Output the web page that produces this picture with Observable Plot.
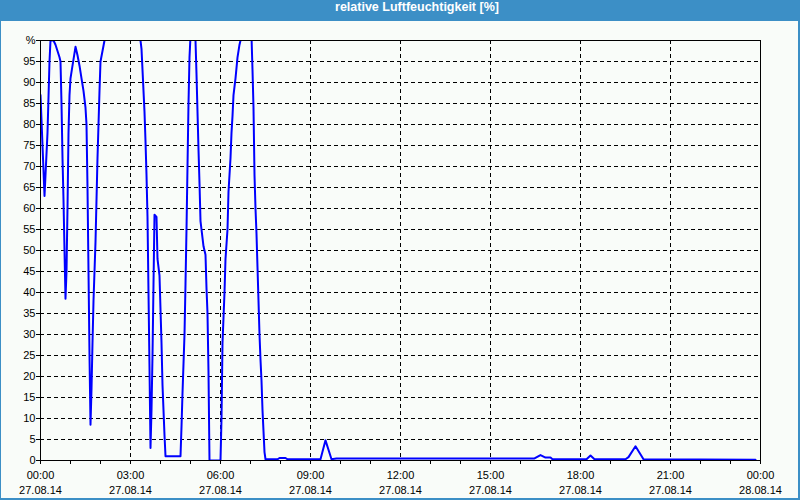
<!DOCTYPE html>
<html>
<head>
<meta charset="utf-8">
<script src="https://cdn.jsdelivr.net/npm/d3@7"></script>
<script src="https://cdn.jsdelivr.net/npm/@observablehq/plot@0.6"></script>
<style>
  html, body { margin: 0; padding: 0; background: #ffffff; }
  #frame { position: relative; width: 800px; height: 500px; background: #3c8fc6; overflow: hidden; }
  #title { position: absolute; left: 0; top: 0; width: 834px; height: 20px; line-height: 20px;
           text-align: center; color: #ffffff; font: bold 12.5px "Liberation Sans", Arial, sans-serif; }
  #chart { position: absolute; left: 1px; top: 21px; width: 797px; height: 477px; background: #f9fcf9; }
  #chart svg { display: block; }
</style>
</head>
<body>
<div id="frame">
  <div id="title">relative Luftfeuchtigkeit [%]</div>
  <div id="chart"></div>
</div>
<script>
// Measurement times (27.08.14) and relative humidity [%]
const times = [
  "00:00","00:08","00:14","00:18","00:20","00:26","00:30","00:34","00:38","00:40",
  "00:42","00:44","00:46","00:48","00:50","00:52","00:54","00:56","00:58","01:00",
  "01:04","01:08","01:10","01:14","01:18","01:22","01:26","01:30","01:32","01:34",
  "01:36","01:38","01:40","01:42","01:44","01:46","01:50","01:52","01:54","01:56",
  "01:58","02:00","02:04","02:08","02:12","02:40","03:18","03:22","03:24","03:26",
  "03:28","03:30","03:32","03:34","03:36","03:38","03:40","03:42","03:44","03:46",
  "03:48","03:52","03:54","03:58","04:00","04:02","04:04","04:06","04:08","04:10",
  "04:40","04:42","04:44","04:46","04:48","04:50","04:52","04:54","04:56","04:58",
  "05:00","05:06","05:10","05:12","05:14","05:16","05:18","05:20","05:22","05:24",
  "05:26","05:30","05:32","05:34","05:36","05:38","06:00","06:02","06:04","06:08",
  "06:10","06:14","06:16","06:20","06:22","06:24","06:26","06:30","06:34","06:38",
  "06:42","06:50","07:02","07:04","07:06","07:08","07:10","07:12","07:14","07:16",
  "07:18","07:20","07:22","07:24","07:26","07:28","07:30","07:54","07:58","08:10",
  "08:14","09:20","09:30","09:42","09:52","16:28","16:40","16:50","17:00","17:04",
  "18:12","18:20","18:28","19:30","19:36","19:50","20:06","23:50"
];
const humidity = [
  87, 63, 78, 95, 100, 100, 99, 97.5, 96, 95,
  85, 72, 62, 50, 38.5, 45, 60, 78, 87, 91,
  94, 97, 98.5, 96.5, 94, 91, 88, 84, 80, 65,
  45, 25, 8.5, 17, 28, 38, 52, 62, 72, 80,
  88, 95, 97.5, 100, 103, 105, 102, 98, 93, 88,
  83, 76, 68, 58, 40, 22, 3, 12, 25, 42,
  58.5, 58, 48, 44, 36, 28, 18, 12, 6, 1,
  1, 8, 16, 23, 30, 42, 55, 70, 85, 96,
  101, 103, 100, 92, 83, 74, 66, 57, 55, 53,
  51, 49, 41, 35, 21, 0, 0, 10, 28, 40,
  48, 55, 64, 72, 78, 82, 87, 91, 96, 99,
  101, 104, 101, 93, 84, 68, 60, 54, 46, 38,
  30, 24, 19, 12, 7, 2, 0.3, 0.3, 0.6, 0.6,
  0.3, 0.3, 4.8, 0.3, 0.5, 0.5, 1.3, 0.7, 0.7, 0.3,
  0.3, 1.2, 0.3, 0.3, 0.8, 3.4, 0.3, 0.2
];

// Axis ticks and labels
const yTicks = d3.range(0, 101, 5);
const yGrid = d3.range(5, 100, 5);
const xMajorTicks = [0, 3, 6, 9, 12, 15, 18, 21, 24];
const xMinorTicks = d3.range(0, 25, 1);
const xGrid = [3, 6, 9, 12, 15, 18, 21];
const xTimeLabels = ["00:00","03:00","06:00","09:00","12:00","15:00","18:00","21:00","00:00"];
const xDateLabels = ["27.08.14","27.08.14","27.08.14","27.08.14","27.08.14","27.08.14","27.08.14","27.08.14","28.08.14"];

const toHours = s => { const [h, m] = s.split(":").map(Number); return h + m / 60; };
const data = times.map((t, i) => ({ hour: toHours(t), value: humidity[i] }));

const chart = Plot.plot({
  width: 797,
  height: 477,
  marginLeft: 39,
  marginRight: 38,
  marginTop: 19,
  marginBottom: 38,
  style: { fontFamily: "'Liberation Sans', Arial, sans-serif", fontSize: "11px", background: "#f9fcf9", color: "#000", overflow: "visible" },
  x: { domain: [0, 24], label: null },
  y: { domain: [0, 100], label: null },
  marks: [
    Plot.gridY(yGrid, { stroke: "#000", strokeOpacity: 1, strokeDasharray: "4,3" }),
    Plot.gridX(xGrid, { stroke: "#000", strokeOpacity: 1, strokeDasharray: "4,3" }),
    Plot.line(data, { x: "hour", y: "value", stroke: "#0000ff", strokeWidth: 2, clip: true }),
    Plot.frame({ stroke: "#000" }),
    Plot.axisY(yTicks, { tickSize: 4, tickPadding: 1, fill: "#000", label: null,
      tickFormat: d => d === 100 ? "%" : String(d) }),
    Plot.axisX(xMinorTicks, { tickSize: 4, tickFormat: () => "", label: null }),
    Plot.axisX(xMajorTicks, { tickSize: 0, tickPadding: 11, fill: "#000", label: null,
      tickFormat: d => xTimeLabels[xMajorTicks.indexOf(d)] }),
    Plot.axisX(xMajorTicks, { tickSize: 0, tickPadding: 26, fill: "#000", label: null,
      tickFormat: d => xDateLabels[xMajorTicks.indexOf(d)] })
  ]
});
document.getElementById("chart").appendChild(chart);
</script>
</body>
</html>
